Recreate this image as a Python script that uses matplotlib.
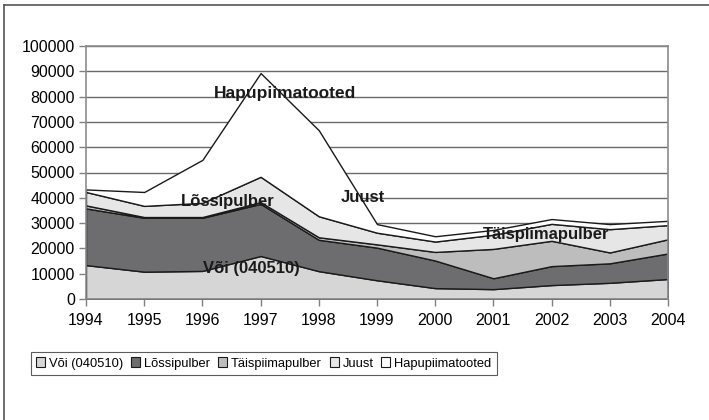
import matplotlib
matplotlib.use("Agg")
import matplotlib.pyplot as plt
from matplotlib.patches import Patch
from matplotlib.lines import Line2D

years = [1994, 1995, 1996, 1997, 1998, 1999, 2000, 2001, 2002, 2003, 2004]
series_names = ["Või (040510)", "Lõssipulber", "Täispiimapulber", "Juust", "Hapupiimatooted"]
voi = [13400, 10800, 11100, 17000, 11000, 7400, 4300, 3900, 5500, 6400, 7900]
lossipulber = [22400, 21300, 21000, 20600, 12400, 12900, 10900, 4300, 7500, 7700, 10100]
taispiimapulber = [1200, 300, 300, 700, 1000, 1300, 3400, 11600, 10000, 4300, 5600]
juust = [5300, 4400, 5600, 10000, 8300, 4600, 4100, 5600, 6700, 9200, 5600]
hapupiimatooted = [1000, 5500, 17000, 41000, 34000, 3400, 2100, 1900, 1900, 2000, 1700]
yticks = list(range(0, 100001, 10000))

colors = ["#d6d6d6", "#6d6d70", "#bdbdbd", "#e6e6e6", "#ffffff"]

plt.rcParams['font.family'] = ['Liberation Sans', 'DejaVu Sans']

fig = plt.figure(figsize=(7.09, 4.2), dpi=100)
ax = fig.add_axes([86/709, (420-299)/420, (668-86)/709, (299-46)/420])

data = [voi, lossipulber, taispiimapulber, juust, hapupiimatooted]
ax.stackplot(years, *data, colors=colors, edgecolor="#1a1a1a", linewidth=1.0, zorder=2)

ax.set_xlim(1994, 2004)
ax.set_ylim(0, 100000)
ax.set_yticks(yticks)
ax.set_yticklabels([str(v) for v in yticks])
ax.set_xticks(years)
ax.set_xticklabels([str(y) for y in years])
ax.tick_params(axis='both', labelsize=11.5, color="#808080", length=5, width=1, direction='out')
ax.tick_params(axis='x', pad=5)
ax.tick_params(axis='y', pad=3)
ax.yaxis.grid(True, color="#6a6a6a", linewidth=1.0)
for g in ax.get_ygridlines():
    g.set_zorder(1.5)
for s in ax.spines.values():
    s.set_color("#8c8c8c")
    s.set_linewidth(1.2)
    s.set_zorder(3)

# Series labels inside the chart
lab = dict(fontweight='bold', color="#1a1a1a", ha='center', va='center', zorder=5)
ax.text(1997.42, 81400, "Hapupiimatooted", fontsize=12.5, **lab)
ax.text(1996.44, 38700, "Lõssipulber", fontsize=12, **lab)
ax.text(1998.76, 40300, "Juust", fontsize=12, **lab)
ax.text(2001.90, 25300, "Täispiimapulber", fontsize=12, **lab)
ax.text(1996.84, 12250, "Või (040510)", fontsize=12, **lab)

handles = [Patch(facecolor=c, edgecolor="#1a1a1a", linewidth=0.8) for c in colors]
leg = fig.legend(handles, series_names, loc='center left', bbox_to_anchor=(31/709, 1-363.5/420),
                 ncol=5, fontsize=9.3, frameon=True, fancybox=False, edgecolor="#333333",
                 handlelength=0.7, handleheight=0.7, handletextpad=0.3, columnspacing=0.6,
                 borderpad=0.42, borderaxespad=0)
leg.get_frame().set_linewidth(0.8)

# Figure border (left and top edges)
fig.add_artist(Line2D([4/709, 4/709], [0, 1-5/420], transform=fig.transFigure, color="#555555", linewidth=1.2))
fig.add_artist(Line2D([4/709, 1], [1-5/420, 1-5/420], transform=fig.transFigure, color="#555555", linewidth=1.2))

fig.savefig("out.png", dpi=100)
